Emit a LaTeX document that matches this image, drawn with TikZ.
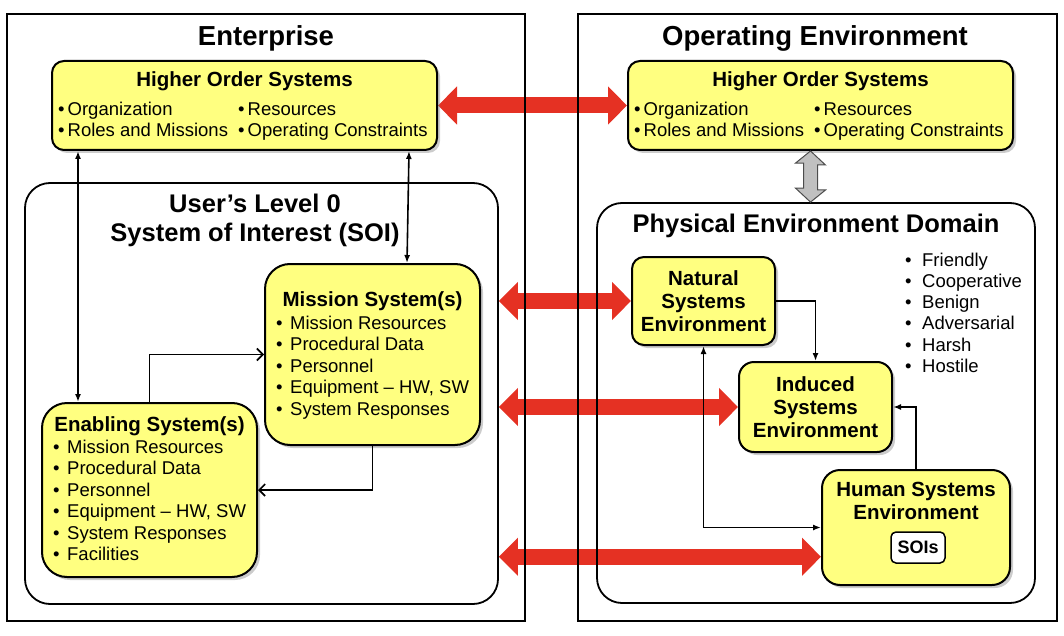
\documentclass[tikz,border=0pt]{standalone}
\usepackage{fontspec}
\setmainfont{Liberation Sans}
\usetikzlibrary{arrows.meta,shadows,calc,backgrounds}

\definecolor{sysyellow}{RGB}{255,255,128}
\definecolor{linkred}{RGB}{229,49,35}
\definecolor{linkgray}{RGB}{192,192,192}

\tikzset{
  frame/.style={draw, line width=2.5pt, inner sep=0},
  domainbox/.style={draw, line width=1.8pt, rounded corners=25pt, inner sep=0},
  sysbox/.style={draw, line width=2pt, fill=sysyellow,
    drop shadow={shadow xshift=3pt, shadow yshift=-3pt, opacity=0.4}},
  bigtitle/.style={font=\fontsize{27.5}{30}\selectfont\bfseries, anchor=base, inner sep=0},
  midtitle/.style={font=\fontsize{25.5}{28}\selectfont\bfseries, anchor=base, inner sep=0},
  boxtitle/.style={font=\fontsize{20.5}{23}\selectfont\bfseries, anchor=base, inner sep=0},
  envtitle/.style={font=\fontsize{20.5}{23}\selectfont\bfseries, align=center},
  item/.style={font=\fontsize{18.5}{21.5}\selectfont, anchor=base west, inner sep=0},
  bigarrow/.style={line width=16pt, draw=linkred,
    {Triangle[width=37pt,length=19pt]}-{Triangle[width=37pt,length=19pt]}},
  link/.style={line width=1.6pt},
  tip/.style={-{Latex[length=8pt,width=6pt]}},
  bitip/.style={{Latex[length=8pt,width=6pt]}-{Latex[length=8pt,width=6pt]}},
  opentip/.style={-{Straight Barb[length=6pt,width=12pt]}}
}

\begin{document}
\begin{tikzpicture}[x=1pt,y=-1pt]
	\useasboundingbox (0,0) rectangle (1064,636);

	\node[frame, minimum width=518pt, minimum height=607pt] (ent) at (266,317.5) {};
	\node[frame, minimum width=479pt, minimum height=607pt] (ope) at (817.5,317.5) {};
	\node[bigtitle] (entt) at (266,46) {Enterprise};
	\node[bigtitle] (opet) at (815,46) {Operating Environment};

	\foreach \s/\dx in {L/0, R/576} {
		\node[sysbox, rounded corners=12pt, minimum width=385pt, minimum height=89pt] (hos\s) at (244.5+\dx,105.5) {};
		\node[boxtitle] (hos\s t) at (244.5+\dx,87) {Higher Order Systems};
		\node[item] (hos\s 1) at (58+\dx,116) {\textbullet\hspace{3pt}Organization};
		\node[item] (hos\s 2) at (58+\dx,137) {\textbullet\hspace{3pt}Roles and Missions};
		\node[item] (hos\s 3) at (238+\dx,116) {\textbullet\hspace{3pt}Resources};
		\node[item] (hos\s 4) at (238+\dx,137) {\textbullet\hspace{3pt}Operating Constraints};
	}

	\node[domainbox, minimum width=473pt, minimum height=421pt] (user) at (261.5,393.5) {};
	\node[midtitle] (usert1) at (255,213) {User’s Level 0};
	\node[midtitle] (usert2) at (255,241) {System of Interest (SOI)};

	\node[sysbox, rounded corners=25pt, minimum width=215pt, minimum height=181pt] (mis) at (372.5,354.5) {};
	\node[boxtitle] (mist) at (372.5,306) {Mission System(s)};
	\foreach \t [count=\i] in {Mission Resources, Procedural Data, Personnel, {Equipment – HW, SW}, System Responses}
		\node[item] (mis\i) at (276,307.5+21.5*\i) {\textbullet\hspace{7.5pt}\t};

	\node[sysbox, rounded corners=25pt, minimum width=215pt, minimum height=174pt] (ena) at (149.5,490) {};
	\node[boxtitle] (enat) at (149.5,431) {Enabling System(s)};
	\foreach \t [count=\i] in {Mission Resources, Procedural Data, Personnel, {Equipment – HW, SW}, System Responses, Facilities}
		\node[item] (ena\i) at (53,431.5+21.5*\i) {\textbullet\hspace{7.5pt}\t};

	\node[domainbox, minimum width=438pt, minimum height=400pt] (ped) at (816,403) {};
	\node[midtitle] (pedt) at (816,233) {Physical Environment Domain};
	\foreach \t [count=\i] in {Friendly, Cooperative, Benign, Adversarial, Harsh, Hostile}
		\node[item] (env\i) at (905,244.7+21.3*\i) {\textbullet\hspace{10.5pt}\t};

	\node[sysbox, envtitle, rounded corners=12pt, minimum width=143pt, minimum height=88pt] (nat) at (703.5,301) {Natural\\Systems\\Environment};
	\node[sysbox, envtitle, rounded corners=15pt, minimum width=153pt, minimum height=90pt] (ind) at (815.5,407) {Induced\\Systems\\Environment};
	\node[sysbox, rounded corners=18pt, minimum width=188pt, minimum height=115pt] (hum) at (916,527.5) {};
	\node[boxtitle] (humt1) at (916,496) {Human Systems};
	\node[boxtitle] (humt2) at (916,519) {Environment};
	\node[draw, line width=1.5pt, fill=white, rounded corners=5pt, inner sep=0, minimum width=54pt, minimum height=31pt,
		font=\fontsize{18}{20}\selectfont\bfseries] (soi) at (918,547.5) {SOIs};

	% links inside the SOI
	\draw[link, bitip] ($(hosL.south west)+(27,0)$) -- ($(ena.north west)+(37,0)$);
	\draw[link, bitip] ($(hosL.south east)+(-29,0)$) -- ($(mis.north west)+(143,0)$);
	\draw[link, opentip] (ena.north) |- (mis.west);
	\draw[link, opentip] (mis.south) |- (ena.east);

	% links in the physical environment
	\draw[link, tip] (nat.east) -| (ind.north);
	\draw[link, tip] (hum.north) |- (ind.east);
	\draw[link, bitip] (nat.south) |- (hum.west);

	\coordinate (g1) at ($(hosR.south)+(-10,0)$);
	\coordinate (g2) at (g1 |- ped.north);
	\draw[line width=1pt, draw=black!70, fill=linkgray] (g1) -- ++(15,14) -- ++(-8,0) -- ++(0,25) -- ++(8,0) -- (g2)
		-- ++(-15,-14) -- ++(8,0) -- ++(0,-25) -- ++(-8,0) -- cycle;

	\begin{scope}[on background layer]
		\coordinate (humin) at ($(hum.south west)!0.25!(hum.north west)$);
		\draw[bigarrow] (hosL.east) -- (hosR.west);
		\draw[bigarrow] (user.east |- nat.west) -- (nat.west);
		\draw[bigarrow] (user.east |- ind.west) -- (ind.west);
		\draw[bigarrow] (user.east |- humin) -- (humin);
	\end{scope}
\end{tikzpicture}
\end{document}
